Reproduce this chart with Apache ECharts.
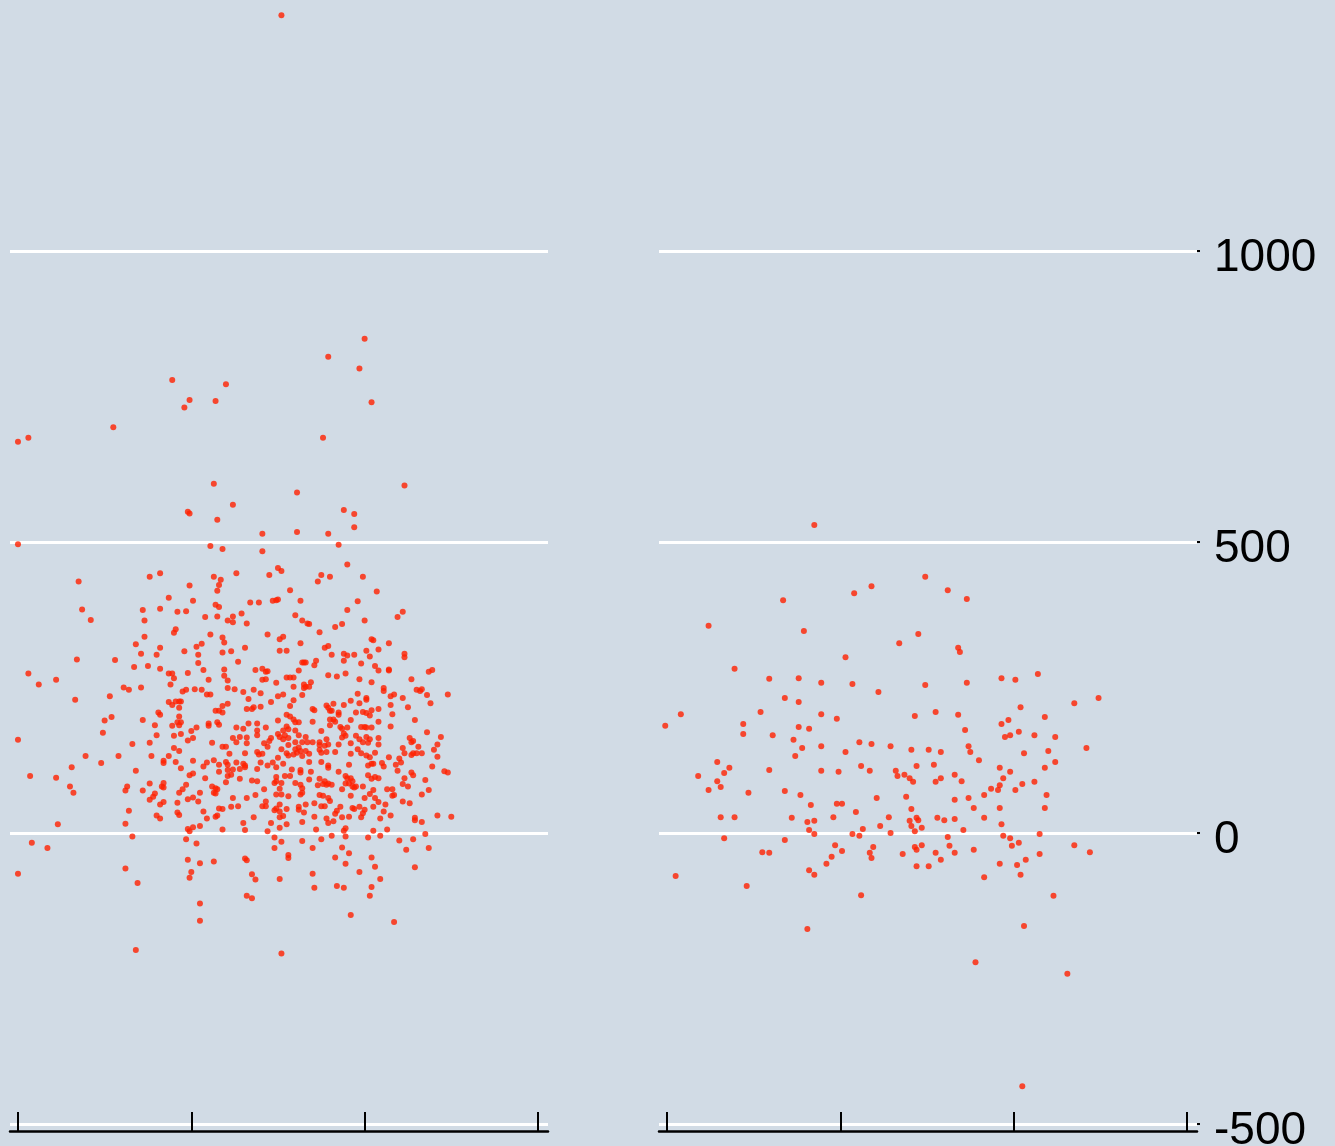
<!DOCTYPE html>
<html>
<head>
<meta charset="utf-8">
<title>Scatter panels</title>
<script src="https://cdn.jsdelivr.net/npm/echarts@6/dist/echarts.min.js"></script>
<style>
  html, body { margin: 0; padding: 0; background: #d1dbe5; }
  #chart { width: 1335px; height: 1146px; }
</style>
</head>
<body>
<div id="chart"></div>
<script>
// Value axis ticks
const yTicks = [-500, 0, 500, 1000];
const xTicks = [0, 100, 200, 300];

// Left panel observations [x, y]
const leftPanelPoints = [
  [152,1405],
  [89,778],[120,771],[99,744],[96,731],[114,742],[55,697],[0,672],[6,679],[113,600],[98,552],[99,549],[115,538],[0,496],[111,493],[118,488],[82,446],[76,440],[113,440],
  [200,849],[179,818],[197,798],[204,740],[176,679],[223,597],[161,585],[124,564],[188,555],[194,548],[194,525],[141,514],[161,517],[179,514],[185,495],[141,484],[190,461],[126,446],[150,455],[152,450],[145,443],[175,443],[180,440],[199,440],
  [35,432],[99,425],[117,435],[116,426],[115,416],[87,404],[101,399],[37,384],[42,366],[72,383],[82,385],[92,380],[97,381],[114,392],[116,388],[108,371],[115,372],[121,365],[73,365],[91,350],[90,344],[111,341],[73,337],[118,336],[119,327],[106,325],[103,320],[68,324],[82,318],[71,308],[80,306],[96,312],[104,306],[118,310],[34,298],[56,297],[104,292],[67,285],[75,287],[82,282],[98,275],[107,280],[119,281],[6,274],[87,274],[89,274],[90,266],[119,270],[121,262],[22,263],[110,263],[12,255],[88,255],[61,250],[64,246],[71,250],[95,243],[97,246],[102,247],[106,246],[121,249],[109,238],[111,238],[53,235],[33,229],[87,225],[91,226],[93,226],[94,226],[89,220],[93,215],[118,218],[121,222],[114,210],[116,210],[118,207],[81,207],[82,203],[93,200],[54,199],[50,193],[72,194],[92,190],[94,190],[93,185],[89,184],[79,185],[110,188],[110,184],[115,190],[116,186],[103,181],[100,175],[49,172],[80,168],[90,167],[94,170],[101,163],[98,159],[0,160],[66,153],[76,155],[112,155],[90,146],[93,141],[118,148],[120,148],[39,132],[58,132],[77,132],[87,132],[122,136],
  [48,120],[31,113],[7,98],[22,95],[68,107],[84,124],[84,120],[91,122],[101,124],[109,121],[107,114],[113,125],[116,117],[120,122],[121,117],[94,111],[116,105],[121,108],[99,99],[101,102],[108,94],[121,98],[30,80],[32,69],[63,80],[62,73],[76,85],[84,86],[83,80],[84,78],[72,73],[97,83],[95,75],[93,69],[112,80],[114,77],[115,75],[113,69],[114,68],[120,87],[105,69],[79,68],[78,62],[76,57],[101,61],[98,58],[104,54],[92,52],[84,53],[82,49],[64,38],[107,37],[116,42],[118,41],[92,35],[93,31],[80,30],[82,25],[114,28],[115,30],[109,25],[23,15],[62,16],[105,12],[98,7],[101,10],[99,3],[118,6],[66,-6],[8,-17],[17,-26],[97,-11],[103,-18],[98,-46],[105,-52],[113,-49],[62,-61],[0,-70],[100,-67],[99,-77],[69,-86],[105,-121],[105,-151],[68,-201],
  [173,432],[157,417],[207,415],[134,396],[139,396],[147,399],[149,400],[150,401],[163,399],[196,398],[190,383],[129,377],[124,372],[124,362],[160,374],[164,365],[167,360],[168,359],[132,360],[183,354],[187,359],[200,365],[219,371],[222,380],[174,345],[144,341],[151,333],[153,337],[204,333],[205,331],[214,326],[163,326],[131,318],[123,312],[151,313],[155,313],[177,318],[179,321],[201,313],[208,315],[181,306],[188,308],[190,305],[194,306],[203,303],[223,302],[223,308],[127,294],[164,293],[165,293],[166,293],[172,296],[171,288],[188,296],[198,291],[206,287],[208,279],[214,281],[214,279],[237,277],[239,280],[137,280],[141,282],[143,277],[144,278],[162,279],[189,274],[179,271],[184,269],[141,263],[143,264],[155,267],[157,267],[159,267],[149,258],[197,264],[204,259],[227,264],[169,259],[165,255],[166,251],[168,251],[165,249],[159,251],[125,247],[130,242],[136,246],[140,240],[150,235],[153,238],[164,237],[211,249],[211,244],[215,235],[217,238],[230,246],[232,244],[233,247],[236,237],[248,238],[196,239],[133,230],[159,228],[146,225],[192,227],[201,232],[201,229],[222,232],[197,223],[182,222],[178,219],[179,215],[188,220],[157,218],[132,213],[135,213],[136,216],[140,217],[170,213],[171,211],[215,220],[238,223],[225,216],[208,213],[204,211],[180,210],[181,210],[185,207],[185,203],[195,207],[199,208],[201,206],[203,202],[155,203],[157,200],[159,195],[216,204],[180,195],[182,195],[183,191],[192,194],[229,194],[150,193],[170,191],[160,190],[162,190],[208,191],[133,188],[138,188],[155,183],[156,178],[180,185],[186,182],[187,179],[190,181],[198,182],[200,182],[201,181],[204,181],[215,183],[126,181],[130,179],[143,181],[138,176],[138,168],[153,176],[154,168],[160,176],[162,168],[175,175],[188,171],[187,164],[189,167],[236,173],[244,165],[124,163],[128,165],[132,164],[146,163],[145,158],[150,170],[151,165],[153,161],[156,163],[166,165],[178,161],[174,156],[195,167],[197,161],[201,165],[203,161],[208,163],[226,163],[227,156],[228,158],[126,156],[132,154],[142,154],[156,151],[160,156],[164,156],[167,156],[170,156],[179,152],[185,152],[192,154],[199,156],[202,155],[208,152],[242,152],[144,148],[222,146],[231,148],[152,144],[160,144],[162,147],[163,141],[161,138],[166,141],[168,136],[174,151],[177,150],[174,143],[175,138],[178,139],[183,139],[192,136],[196,144],[198,137],[201,133],[203,130],[206,138],[214,130],[220,128],[223,137],[227,134],[228,137],[230,137],[233,137],[240,143],[242,131],[131,137],[138,139],[139,135],[141,136],[150,129],[155,137],[156,133],[159,135],[164,132],
  [126,121],[130,119],[131,113],[128,110],[124,109],[123,100],[131,116],[138,110],[140,121],[144,116],[147,121],[149,113],[153,119],[158,109],[163,108],[163,104],[168,122],[169,105],[175,122],[179,116],[179,112],[185,105],[191,117],[202,116],[204,119],[205,119],[210,120],[211,114],[218,117],[219,107],[221,121],[227,104],[228,99],[239,114],[246,106],[248,104],[128,93],[135,90],[138,89],[142,75],[148,86],[149,89],[149,96],[152,86],[154,98],[157,98],[160,86],[163,83],[164,77],[164,69],[163,66],[168,92],[173,82],[174,93],[176,84],[178,83],[179,85],[181,83],[177,89],[189,98],[190,94],[192,94],[189,85],[191,85],[193,89],[193,80],[194,78],[195,80],[187,75],[199,80],[202,99],[204,93],[206,96],[208,94],[205,74],[213,75],[216,75],[216,64],[223,94],[222,84],[225,80],[235,91],[237,74],[233,66],[124,60],[123,45],[127,46],[132,60],[137,65],[149,66],[152,66],[151,76],[156,63],[143,54],[141,46],[143,46],[151,49],[149,42],[148,39],[151,37],[155,41],[162,45],[162,40],[166,49],[165,35],[171,51],[174,65],[176,64],[179,60],[180,55],[175,46],[177,46],[186,45],[184,38],[183,33],[192,64],[200,60],[203,67],[206,60],[208,53],[212,49],[217,65],[193,43],[194,41],[197,45],[200,40],[199,34],[198,27],[205,45],[211,37],[222,54],[226,51],[136,27],[151,27],[153,29],[146,17],[155,15],[164,19],[171,28],[178,25],[182,20],[179,17],[187,27],[191,28],[209,25],[215,30],[229,26],[229,22],[233,19],[242,30],[250,28],[130,17],[131,5],[151,9],[144,3],[172,6],[188,4],[189,8],[205,4],[213,6],[235,-2],[148,-8],[164,-14],[152,-15],[175,-11],[181,-5],[189,-6],[202,-8],[209,-5],[220,-13],[228,-11],[148,-26],[170,-26],[187,-25],[191,-35],[224,-29],[237,-26],[131,-44],[132,-47],[156,-38],[156,-43],[183,-42],[189,-53],[204,-42],[206,-58],[197,-67],[229,-59],[135,-71],[137,-80],[151,-79],[170,-70],[209,-79],[171,-94],[184,-91],[188,-94],[204,-93],[132,-108],[135,-112],[203,-108],[192,-141],[217,-153],[152,-207]
];

// Right panel observations [x, y]
const rightPanelPoints = [
  [85,529],[67,400],[24,356],[108,412],[118,424],[149,440],[162,417],[173,402],[79,347],[145,342],[134,326],[168,318],[169,311],[103,302],[39,282],[59,265],[76,266],[89,258],[107,256],[149,254],[173,258],[193,266],[201,263],[214,273],[122,242],[68,232],[54,208],[44,187],[76,225],[-1,184],[8,204],[61,168],[44,170],[89,204],[98,196],[76,182],[82,179],[143,201],[155,208],[168,203],[193,187],[197,194],[204,216],[218,199],[249,232],[235,223],
  [33,103],[36,112],[29,122],[24,74],[18,98],[29,89],[31,79],[47,69],[59,108],[73,160],[78,146],[74,132],[89,149],[89,107],[103,139],[99,105],[112,115],[117,107],[129,149],[111,156],[118,153],[141,143],[151,143],[158,139],[144,115],[154,117],[172,177],[174,149],[175,139],[180,125],[195,165],[198,168],[203,174],[212,168],[206,137],[224,165],[220,141],[224,122],[242,146],[218,112],[192,112],[198,105],
  [68,72],[77,65],[83,48],[98,50],[101,50],[121,60],[132,107],[133,98],[137,100],[140,94],[142,88],[201,74],[194,94],[192,82],[138,62],[141,41],[145,22],[155,88],[158,94],[166,100],[170,89],[166,57],[174,60],[183,65],[187,76],[191,74],[205,84],[212,88],[219,65],[218,43],[192,43],
  [31,27],[39,27],[72,26],[81,19],[85,21],[96,27],[109,36],[123,12],[128,27],[140,21],[141,12],[144,26],[156,26],[160,22],[166,24],[177,43],[183,26],[193,15],[215,-2],[33,-9],[82,5],[85,-2],[107,-2],[111,-5],[113,7],[129,0],[143,3],[147,9],[162,-7],[171,5],[194,-5],[198,-9],[203,-17],
  [55,-33],[59,-34],[68,-12],[97,-21],[101,-31],[119,-24],[117,-34],[143,-24],[144,-29],[147,-21],[155,-34],[163,-22],[166,-34],[177,-29],[199,-22],[207,-46],[215,-36],[82,-64],[85,-72],[95,-41],[92,-53],[118,-43],[136,-36],[144,-57],[151,-57],[158,-46],[192,-53],[202,-55],[204,-72],[235,-21],[244,-33],
  [5,-74],[46,-91],[183,-76],[112,-107],[223,-108],[81,-165],[206,-160],[178,-222],[231,-242],[205,-435]
];

const BG = '#d1dbe5';
const DOT = '#ff2000';
const FONT = '"Liberation Sans", Arial, Helvetica, sans-serif';

function xAxisFor(gridIndex) {
  return {
    type: 'value',
    gridIndex: gridIndex,
    min: -4.6,
    max: 305.8,
    offset: 7,
    axisLine: { show: true, onZero: false, lineStyle: { color: '#000', width: 2.5 } },
    axisTick: {
      show: true, inside: true, length: 19,
      customValues: xTicks,
      lineStyle: { color: '#000', width: 2 }
    },
    axisLabel: { show: false },
    splitLine: { show: false }
  };
}

function yAxisFor(gridIndex, withLabels) {
  return {
    type: 'value',
    gridIndex: gridIndex,
    position: 'right',
    min: -500,
    max: 1431,
    interval: 500,
    axisLine: { show: false, onZero: false },
    axisTick: {
      show: withLabels, length: 3,
      customValues: yTicks,
      lineStyle: { color: '#000', width: 2 }
    },
    axisLabel: {
      show: withLabels,
      customValues: yTicks,
      margin: 17,
      formatter: function (v) { return '{v|' + String(v) + '}'; },
      rich: {
        v: {
          color: '#000',
          fontSize: 46,
          fontFamily: FONT,
          padding: [14, 0, 0, 0]
        }
      }
    },
    splitLine: {
      show: true,
      lineStyle: { color: '#ffffff', width: 3 }
    }
  };
}

function scatterSeries(points, idx) {
  return {
    type: 'scatter',
    xAxisIndex: idx,
    yAxisIndex: idx,
    data: points,
    symbol: 'circle',
    symbolSize: 6,
    itemStyle: { color: DOT },
    silent: true,
    clip: false
  };
}

const chart = echarts.init(document.getElementById('chart'), null, { renderer: 'canvas' });
chart.setOption({
  backgroundColor: BG,
  animation: false,
  grid: [
    { left: 10, top: 0, width: 538, height: 1124, outerBoundsMode: 'none', containLabel: false },
    { left: 659, top: 0, width: 538, height: 1124, outerBoundsMode: 'none', containLabel: false }
  ],
  xAxis: [xAxisFor(0), xAxisFor(1)],
  yAxis: [yAxisFor(0, false), yAxisFor(1, true)],
  series: [scatterSeries(leftPanelPoints, 0), scatterSeries(rightPanelPoints, 1)]
});
</script>
</body>
</html>
